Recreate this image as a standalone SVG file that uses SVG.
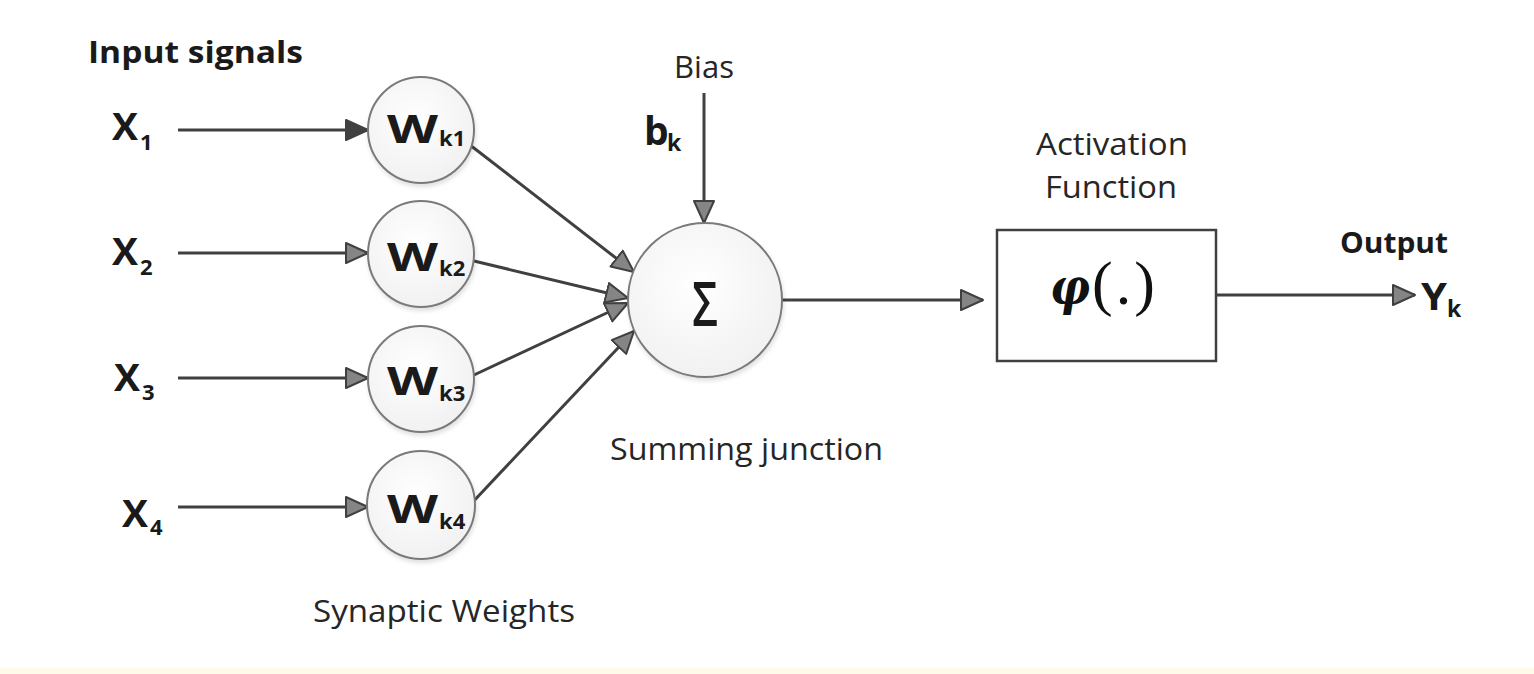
<svg xmlns="http://www.w3.org/2000/svg" width="1534" height="674" viewBox="0 0 1534 674">
<defs>
<style>
.lbl{font-family:"Open Sans","Liberation Sans",sans-serif;font-size:31px;fill:#262626}
.bold{font-family:"Open Sans","Liberation Sans",sans-serif;font-weight:700;fill:#1a1a1a}
.node{fill:url(#cg);stroke:#7a7a7a;stroke-width:2;filter:url(#sh)}
.conn{stroke:#404040;stroke-width:3;fill:none}
</style>
<radialGradient id="cg" cx="0.45" cy="0.4" r="0.65">
<stop offset="0" stop-color="#ffffff"/>
<stop offset="1" stop-color="#f0f0f0"/>
</radialGradient>
<filter id="sh" x="-20%" y="-20%" width="140%" height="140%">
<feDropShadow dx="1" dy="3" stdDeviation="2" flood-color="#000" flood-opacity="0.12"/>
</filter>
<marker id="ah" markerUnits="userSpaceOnUse" markerWidth="26" markerHeight="24" refX="23" refY="11" orient="auto">
<path d="M1,1 L23,11 L1,21 Z" fill="#858585" stroke="#404040" stroke-width="2" stroke-linejoin="round"/>
</marker>
<marker id="ahd" markerUnits="userSpaceOnUse" markerWidth="26" markerHeight="24" refX="23" refY="11" orient="auto">
<path d="M1,1 L23,11 L1,21 Z" fill="#404040" stroke="#404040" stroke-width="2" stroke-linejoin="round"/>
</marker>
</defs>
<rect x="0" y="0" width="1534" height="674" fill="#ffffff"/>
<rect x="0" y="668" width="1534" height="6" fill="#fffbea"/>

<text class="bold" x="88" y="63" font-size="30" textLength="215" lengthAdjust="spacingAndGlyphs">Input signals</text>

<g id="connectors">
<line class="conn" x1="178" y1="130" x2="368" y2="130" marker-end="url(#ahd)"/>
<line class="conn" x1="178" y1="253" x2="368" y2="253" marker-end="url(#ah)"/>
<line class="conn" x1="178" y1="378" x2="368" y2="378" marker-end="url(#ah)"/>
<line class="conn" x1="178" y1="507" x2="368" y2="507" marker-end="url(#ah)"/>
<line class="conn" x1="470" y1="145" x2="634" y2="272" marker-end="url(#ah)"/>
<line class="conn" x1="474" y1="261" x2="628" y2="298" marker-end="url(#ah)"/>
<line class="conn" x1="474" y1="375" x2="628" y2="303" marker-end="url(#ah)"/>
<line class="conn" x1="470" y1="505" x2="634" y2="331" marker-end="url(#ah)"/>
<line class="conn" x1="704" y1="93" x2="704" y2="223" marker-end="url(#ah)"/>
<line class="conn" x1="782" y1="300" x2="983" y2="300" marker-end="url(#ah)"/>
<line class="conn" x1="1216" y1="295" x2="1415" y2="295" marker-end="url(#ah)"/>
</g>

<g id="x1"><text class="bold" x="112" y="140" font-size="37" textLength="26" lengthAdjust="spacingAndGlyphs">X</text><text class="bold" x="140" y="150" font-size="22">1</text></g>
<g id="x2"><text class="bold" x="112" y="265" font-size="37" textLength="26" lengthAdjust="spacingAndGlyphs">X</text><text class="bold" x="140" y="275" font-size="22">2</text></g>
<g id="x3"><text class="bold" x="114" y="391" font-size="37" textLength="26" lengthAdjust="spacingAndGlyphs">X</text><text class="bold" x="142" y="400" font-size="22">3</text></g>
<g id="x4"><text class="bold" x="122" y="527" font-size="37" textLength="26" lengthAdjust="spacingAndGlyphs">X</text><text class="bold" x="150" y="535" font-size="22">4</text></g>

<g id="wk1"><circle class="node" cx="421" cy="130" r="53"/><text class="bold" x="387" y="143" font-size="40" textLength="51" lengthAdjust="spacingAndGlyphs">W</text><text class="bold" x="439" y="146" font-size="22">k1</text></g>
<g id="wk2"><circle class="node" cx="421" cy="254" r="53"/><text class="bold" x="387" y="271" font-size="40" textLength="51" lengthAdjust="spacingAndGlyphs">W</text><text class="bold" x="439" y="276" font-size="22">k2</text></g>
<g id="wk3"><circle class="node" cx="421" cy="379" r="53"/><text class="bold" x="387" y="395" font-size="40" textLength="51" lengthAdjust="spacingAndGlyphs">W</text><text class="bold" x="439" y="401" font-size="22">k3</text></g>
<g id="wk4"><circle class="node" cx="421" cy="505" r="54"/><text class="bold" x="387" y="523" font-size="40" textLength="51" lengthAdjust="spacingAndGlyphs">W</text><text class="bold" x="439" y="529" font-size="22">k4</text></g>

<text class="lbl" x="313" y="622" textLength="262" lengthAdjust="spacingAndGlyphs">Synaptic Weights</text>

<g id="bias"><text class="lbl" x="704" y="78" text-anchor="middle">Bias</text><text class="bold" x="644" y="145" font-size="39">b</text><text class="bold" x="667" y="151" font-size="23">k</text></g>

<g id="sum"><circle class="node" cx="705" cy="300" r="77"/><text x="692" y="326" font-family="'Open Sans','Liberation Sans',sans-serif" font-weight="600" font-size="62" fill="#1a1a1a" textLength="26" lengthAdjust="spacingAndGlyphs">Σ</text></g>
<text class="lbl" x="610" y="460" textLength="273" lengthAdjust="spacingAndGlyphs">Summing junction</text>

<g id="activation"><rect x="997" y="230" width="219" height="131" fill="#ffffff" stroke="#404040" stroke-width="2.5"/><text x="1050" y="304" font-family="'DejaVu Serif',serif" font-weight="700" font-style="italic" font-size="50" fill="#111" textLength="40" lengthAdjust="spacingAndGlyphs">φ</text><text x="1092" y="304" font-family="'Liberation Serif',serif" font-size="62" letter-spacing="3" fill="#111">(.)</text></g>
<text class="lbl" x="1112" y="155" text-anchor="middle" textLength="152" lengthAdjust="spacingAndGlyphs">Activation</text>
<text class="lbl" x="1111" y="198" text-anchor="middle" textLength="132" lengthAdjust="spacingAndGlyphs">Function</text>

<g id="output"><text class="bold" x="1340" y="253" font-size="29" textLength="108" lengthAdjust="spacingAndGlyphs">Output</text><text class="bold" x="1421" y="310" font-size="38" textLength="26" lengthAdjust="spacingAndGlyphs">Y</text><text class="bold" x="1447" y="317" font-size="23">k</text></g>
</svg>
